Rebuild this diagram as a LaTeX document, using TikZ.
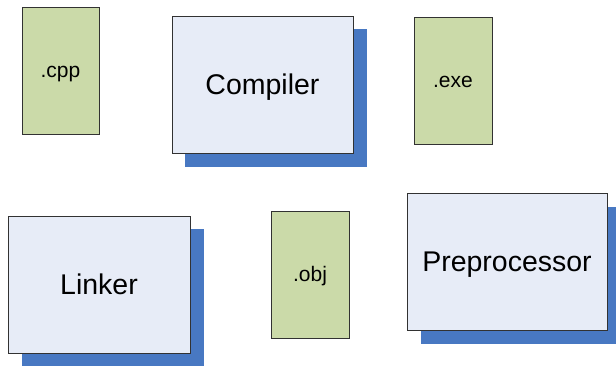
\documentclass[tikz,border=0pt]{standalone}
\usepackage{fontspec}
\setmainfont{Liberation Sans}
\definecolor{filegreen}{RGB}{203,218,169}
\definecolor{toolblue}{RGB}{231,236,247}
\definecolor{shadowblue}{RGB}{72,120,194}
\definecolor{edgegray}{RGB}{50,50,50}
\begin{document}
\begin{tikzpicture}[x=1pt,y=-1pt,
  filelabel/.style={font=\fontsize{21}{24}\selectfont,text height=14.5pt,text depth=0pt},
  toollabel/.style={font=\fontsize{28.5}{32}\selectfont,text height=20.5pt,text depth=0pt},
  filebox/.style={draw=edgegray,line width=0.9pt,fill=filegreen},
  toolbox/.style={draw=edgegray,line width=0.9pt,fill=toolblue},
  shadowbox/.style={fill=shadowblue,draw=none}]
\useasboundingbox (0,0) rectangle (616,365);
% files
\draw[filebox] (22,7) rectangle (99,134) node[midway,filelabel] (cpp) {.cpp};
\draw[filebox] (414,17) rectangle (492,144) node[midway,filelabel] (exe) {.exe};
\draw[filebox] (271,211) rectangle (349,338) node[midway,filelabel] (obj) {.obj};
% tools with shadows
\fill[shadowbox] (185,29) rectangle (367,167);
\draw[toolbox] (172,16) rectangle (353,153) node[midway,toollabel] (comp) {Compiler};
\fill[shadowbox] (22,229) rectangle (204,367);
\draw[toolbox] (8,216) rectangle (190,353) node[midway,toollabel] (link) {Linker};
\fill[shadowbox] (421,207) rectangle (618,344);
\draw[toolbox] (407,193) rectangle (607,330) node[midway,toollabel] (pre) {Preprocessor};
\end{tikzpicture}
\end{document}
